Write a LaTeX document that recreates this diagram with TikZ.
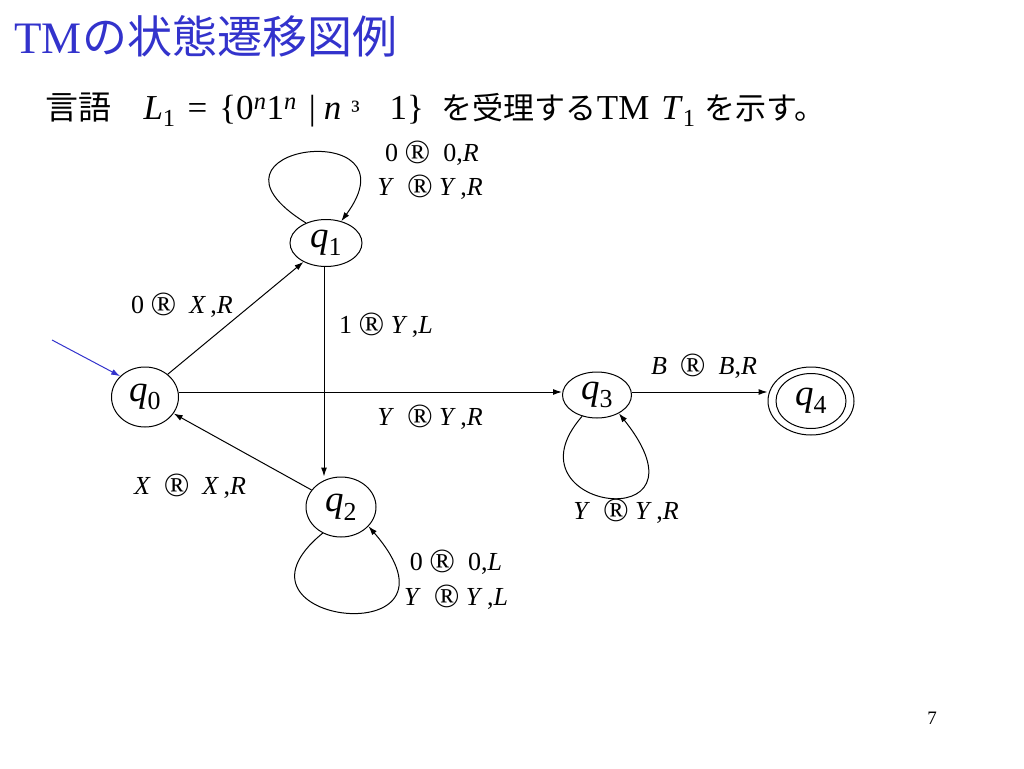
\documentclass[tikz,border=0pt]{standalone}
\usepackage{fontspec}
\setmainfont{Liberation Serif}
\newfontfamily\jpfont{Noto Sans CJK JP}
\usepackage{xcolor}
\usetikzlibrary{shapes.geometric}
\usetikzlibrary{arrows.meta}
\definecolor{titleblue}{RGB}{51,51,204}
\newcommand{\st}[2]{\textit{#1}\textsubscript{#2}}
\newcommand{\rar}{\raisebox{-0.09em}{\scalebox{1.3}{®}}}
\newcommand{\jp}[1]{{\jpfont\fontsize{31}{34}\selectfont #1}}

\begin{document}
\begin{tikzpicture}[x=1pt,y=-1pt,>={Latex[length=9pt,width=6pt]},line width=1pt]
\useasboundingbox (0,0) rectangle (1024,768);
% Define styles
\tikzstyle{state} = [ellipse, draw, inner sep=0pt, font=\fontsize{37}{40}\selectfont]
\tikzstyle{rule} = [inner sep=0pt, font=\fontsize{26}{30}\selectfont]
% Headings
\node[anchor=north west, inner sep=0pt, text=titleblue, font=\fontsize{45}{48}\selectfont] (title) at (14,15) {TM{\jpfont の状態遷移図例}};
\node[anchor=base west, inner sep=0pt, font=\fontsize{35}{38}\selectfont] (lang) at (45,119) {{\jpfont\fontsize{33}{34}\selectfont 言語}\hspace{32pt}\st{L}{1}\hspace{12pt}=\hspace{12pt}\{0\textsuperscript{\textit{n}}1\textsuperscript{\textit{n}}\hspace{12pt}|\hspace{8pt}\textit{n}\hspace{10pt}{\fontsize{28}{30}\selectfont ³}\hspace{30pt}1\}\hspace{18pt}\jp{を受理する}TM\hspace{12pt}\st{T}{1}\hspace{9pt}\jp{を示す。}};
% Define nodes
\node[state, minimum width=67pt, minimum height=60pt] (q0) at (145,397) {\st{q}{0}};
\node[state, minimum width=72pt, minimum height=47pt] (q1) at (326,243) {\st{q}{1}};
\node[state, minimum width=70pt, minimum height=60pt] (q2) at (341,507) {\st{q}{2}};
\node[state, minimum width=69pt, minimum height=46pt] (q3) at (597,395) {\st{q}{3}};
\node[state, minimum width=86pt, minimum height=68pt] (q4) at (811,401) {};
\node[state, minimum width=70pt, minimum height=55pt] (q4in) at (811,401) {\st{q}{4}};
\coordinate (start) at (52,340);
% Rules
\node[rule] (r11a) at (432,153) {0 \rar\ ~0,\textit{R}};
\node[rule] (r11b) at (430,187) {\textit{Y} ~\rar\ \textit{Y}\,,\textit{R}};
\node[rule] (r01) at (182,305) {0 \rar\ ~\textit{X}\,,\textit{R}};
\node[rule] (r12) at (386,325) {1 \rar\ \textit{Y}\,,\textit{L}};
\node[rule] (r03) at (430,417) {\textit{Y} ~\rar\ \textit{Y}\,,\textit{R}};
\node[rule] (r34) at (704,366) {\textit{B} ~\rar\ ~\textit{B},\textit{R}};
\node[rule] (r20) at (190,486) {\textit{X} ~\rar\ ~\textit{X}\,,\textit{R}};
\node[rule] (r33) at (626,511) {\textit{Y} ~\rar\ \textit{Y}\,,\textit{R}};
\node[rule] (r22a) at (456,562) {0 \rar\ ~0,\textit{L}};
\node[rule] (r22b) at (456,597) {\textit{Y} ~\rar\ \textit{Y}\,,\textit{L}};
\node[inner sep=0pt, font=\fontsize{19}{22}\selectfont] (page) at (932,718) {7};
% Connect the nodes
\draw[->, titleblue] (start) -- (q0.140);
\draw[->] (q0.45) -- (q1.220);
\draw[->] (q1.south -| 324,0) -- (q2.north -| 324,0);
\draw[->] (q0.east |- 0,392) -- (q3.west |- 0,392);
\draw[->] (q3.east |- 0,392) -- (q4.west |- 0,392);
\draw[->] (q2.150) -- (q0.-30);
\draw[->] (q1.135) .. controls (180,145) and (420,115) .. (q1.55);
\draw[->] (q3.235) .. controls (500,510) and (720,540) .. (q3.-40);
\draw[->] (q2.235) .. controls (210,625) and (480,655) .. (q2.-35);

\end{tikzpicture}
\end{document}
